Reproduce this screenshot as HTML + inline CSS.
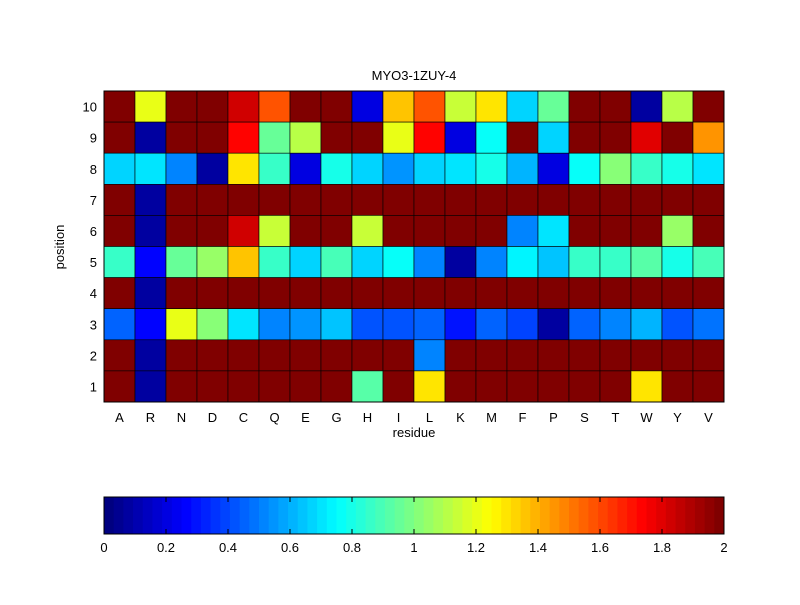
<!DOCTYPE html>
<html><head><meta charset="utf-8"><style>
body{margin:0;background:#fff;}
svg text{font-family:"Liberation Sans",sans-serif;font-size:13px;fill:#000;}
</style></head><body>
<svg id="s" width="800" height="600" xmlns="http://www.w3.org/2000/svg">
<rect width="800" height="600" fill="#fff"/>
<g id="cells"></g>
<g id="cb"></g>
<text x="414" y="80" text-anchor="middle">MYO3-1ZUY-4</text>
<text x="414" y="437" text-anchor="middle">residue</text>
<text transform="translate(64,247) rotate(-90)" text-anchor="middle">position</text>
<g id="lab"></g>
</svg>
<script>
function jet(v){v=Math.max(0,Math.min(1,v));v=Math.round(v*63)/63;
function c(x){return Math.round(255*Math.max(0,Math.min(1,x)));}
return "rgb("+c(1.5-Math.abs(4*v-3))+","+c(1.5-Math.abs(4*v-2))+","+c(1.5-Math.abs(4*v-1))+")";}
var D=2,n=0.05;
var rows=[
[D,1.2,D,D,1.85,1.6,D,D,0.2,1.35,1.6,1.15,1.3,0.68,0.95,D,D,n,1.1,D],
[D,n,D,D,1.75,0.95,1.1,D,D,1.2,1.75,0.2,0.77,D,0.68,D,D,1.8,D,1.45],
[0.68,0.7,0.5,n,1.3,0.85,0.2,0.78,0.68,0.55,0.68,0.7,0.8,0.6,0.2,0.75,1.0,0.85,0.78,0.7],
[D,n,D,D,D,D,D,D,D,D,D,D,D,D,D,D,D,D,D,D],
[D,n,D,D,1.85,1.15,D,D,1.15,D,D,D,D,0.5,0.7,D,D,D,1.05,D],
[0.85,0.25,0.95,1.05,1.35,0.85,0.68,0.9,0.68,0.76,0.5,n,0.5,0.74,0.64,0.85,0.85,0.92,0.78,0.9],
[D,n,D,D,D,D,D,D,D,D,D,D,D,D,D,D,D,D,D,D],
[0.45,0.25,1.2,1.0,0.7,0.5,0.55,0.63,0.4,0.4,0.45,0.3,0.45,0.38,n,0.45,0.5,0.6,0.42,0.48],
[D,n,D,D,D,D,D,D,D,D,0.5,D,D,D,D,D,D,D,D,D],
[D,n,D,D,D,D,D,D,0.92,D,1.3,D,D,D,D,D,D,1.3,D,D]];
var x0=104,y0=91,cw=31,ch=31.1,h="";
rows.forEach(function(r,i){r.forEach(function(v,j){
h+='<rect x="'+(x0+j*cw)+'" y="'+(y0+i*ch)+'" width="'+cw+'" height="'+ch+'" fill="'+jet(v/2)+'" stroke="#000" stroke-width="0.6"/>';});});
h+='<rect x="104" y="91" width="620" height="311" fill="none" stroke="#000" stroke-width="1"/>';
document.getElementById("cells").innerHTML=h;
var c="",w=620/64;
for(var k=0;k<64;k++)c+='<rect x="'+(104+k*w)+'" y="497" width="'+(w+0.5)+'" height="37" fill="'+jet(k/63)+'"/>';
c+='<rect x="104" y="497" width="620" height="37" fill="none" stroke="#000" stroke-width="1"/>';
var L="";
for(var t=0;t<=10;t++){var x=104+t*62;
c+='<line x1="'+x+'" y1="497" x2="'+x+'" y2="502" stroke="#000"/><line x1="'+x+'" y1="534" x2="'+x+'" y2="529" stroke="#000"/>';
var s=(t*0.2).toFixed(1).replace(/\.0$/,"");L+='<text x="'+x+'" y="552" text-anchor="middle">'+s+'</text>';}
document.getElementById("cb").innerHTML=c;
var res="ARNDCQEGHILKMFPSTWYV";
for(var j=0;j<20;j++)L+='<text x="'+(x0+j*cw+cw/2)+'" y="422" text-anchor="middle">'+res[j]+'</text>';
for(var i=0;i<10;i++)L+='<text x="97" y="'+(y0+i*ch+ch/2+5)+'" text-anchor="end">'+(10-i)+'</text>';
document.getElementById("lab").innerHTML=L;
</script>
</body></html>
